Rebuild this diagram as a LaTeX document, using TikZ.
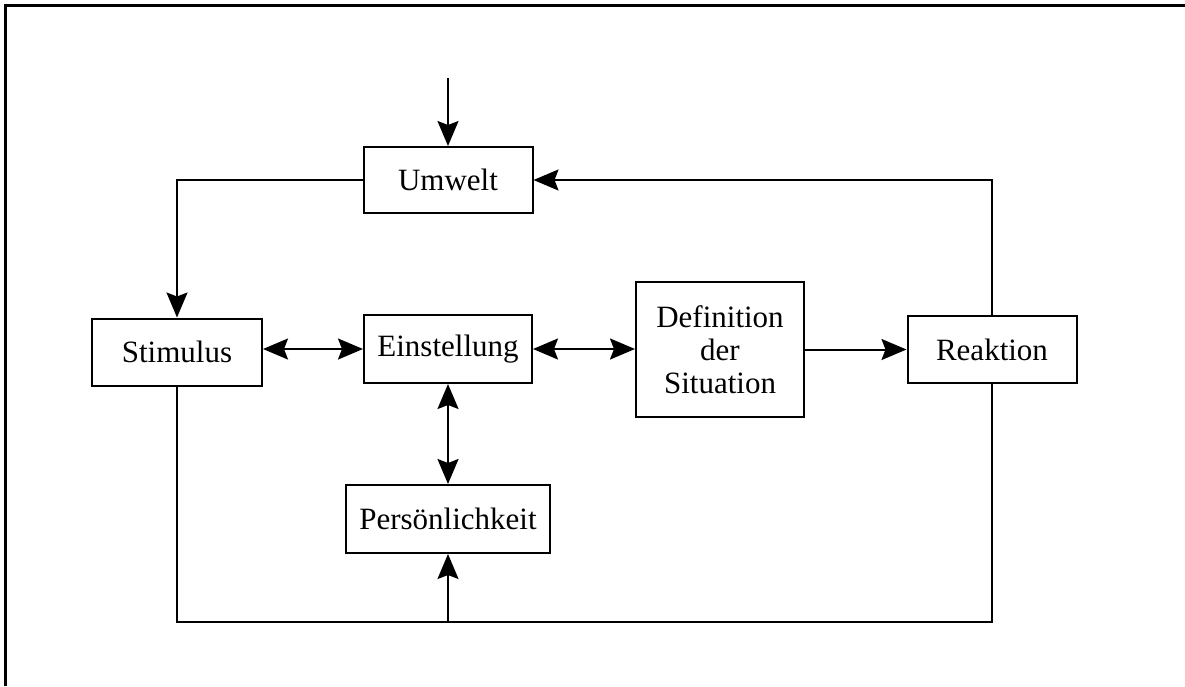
\documentclass[tikz,border=0pt]{standalone}
\usepackage{fontspec}
\setmainfont{Liberation Serif}
\usetikzlibrary{arrows.meta}
\begin{document}
\begin{tikzpicture}[x=1pt,y=-1pt,
  box/.style={draw,line width=2pt,inner sep=0pt,align=center,
    font=\fontsize{31}{33}\selectfont},
  conn/.style={line width=2pt},
  tip/.style={conn,-{Stealth[length=25pt,width=21pt,inset=4pt]}},
  both/.style={conn,{Stealth[length=25pt,width=21pt,inset=4pt]}-{Stealth[length=25pt,width=21pt,inset=4pt]}}]
  \useasboundingbox (0,0) rectangle (1185,686);
  % page frame (top and left edges only)
  \draw[line width=3pt] (5.5,686) -- (5.5,5.5) -- (1185,5.5);

  % boxes
  \node[box,minimum width=169pt,minimum height=66pt] (umwelt) at (448,180) {Umwelt};
  \node[box,minimum width=170pt,minimum height=67pt] (stim) at (177,352) {Stimulus};
  \node[box,minimum width=168pt,minimum height=68pt] (einst) at (448,349) {Einstellung};
  \node[box,minimum width=168pt,minimum height=135pt] (def) at (720,349.5) {Definition\\der\\Situation};
  \node[box,minimum width=169pt,minimum height=67pt] (react) at (992,349.5) {Reaktion};
  \node[box,minimum width=204pt,minimum height=68pt] (pers) at (448,519) {Persönlichkeit};

  \coordinate (in) at (448,78);
  \coordinate (bot) at (448,622);

  % connectors
  \draw[tip] (in) -- (umwelt.north);
  \draw[tip] (umwelt.west) -| (stim.north);
  \draw[tip] (react.north) |- (umwelt.east);
  \draw[both] (stim.east |- einst.west) -- (einst.west);
  \draw[both] (einst.east) -- (def.west |- einst.east);
  \draw[tip] (def.east |- react.west) -- (react.west);
  \draw[both] (einst.south) -- (pers.north);
  \draw[conn] (stim.south) |- (bot) -| (react.south);
  \draw[tip] (bot) -- (pers.south);
\end{tikzpicture}
\end{document}
